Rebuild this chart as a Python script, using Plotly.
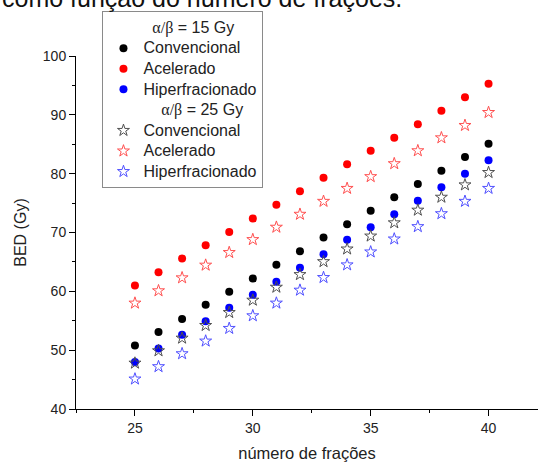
import plotly.graph_objects as go

fracoes = [25, 26, 27, 28, 29, 30, 31, 32, 33, 34, 35, 36, 37, 38, 39, 40]

# alpha/beta = 15 Gy
conv_15 = [50.8, 53.1, 55.3, 57.7, 59.95, 62.2, 64.5, 66.8, 69.15, 71.4, 73.7, 76.0, 78.25, 80.5, 82.85, 85.1]
acel_15 = [61.0, 63.25, 65.6, 67.85, 70.1, 72.4, 74.7, 77.0, 79.3, 81.6, 83.9, 86.1, 88.4, 90.7, 93.0, 95.3]
hiper_15 = [48.0, 50.3, 52.6, 54.9, 57.2, 59.4, 61.65, 64.0, 66.3, 68.75, 70.9, 73.1, 75.4, 77.7, 80.0, 82.3]

# alpha/beta = 25 Gy
conv_25 = [47.8, 49.9, 52.05, 54.2, 56.4, 58.5, 60.7, 62.85, 65.05, 67.2, 69.4, 71.65, 73.8, 76.0, 78.1, 80.2]
acel_25 = [58.0, 60.1, 62.3, 64.45, 66.6, 68.8, 70.9, 73.1, 75.3, 77.5, 79.5, 81.7, 83.9, 86.1, 88.2, 90.4]
hiper_25 = [45.1, 47.2, 49.4, 51.55, 53.7, 55.85, 58.0, 60.2, 62.35, 64.5, 66.7, 68.9, 71.0, 73.2, 75.3, 77.5]

def big(t):
    return "<span style='font-size:16px'>" + t + "</span>"

serif = "<span style='font-family:Liberation Serif'>α/β</span>"
header_15 = big("\u00a0\u00a0" + serif + " = 15 Gy")
header_25 = big("\u00a0\u00a0\u00a0\u00a0" + serif + " = 25 Gy")

fig = go.Figure()

def header(name):
    fig.add_trace(go.Scatter(x=[None], y=[None], mode="markers", name=name,
                             marker=dict(color="rgba(0,0,0,0)", size=1)))

header(header_15)
fig.add_trace(go.Scatter(x=fracoes, y=conv_15, mode="markers", name=big("Convencional"),
                         marker=dict(symbol="circle", size=8, color="#000000")))
fig.add_trace(go.Scatter(x=fracoes, y=acel_15, mode="markers", name=big("Acelerado"),
                         marker=dict(symbol="circle", size=8, color="#ff0000")))
fig.add_trace(go.Scatter(x=fracoes, y=hiper_15, mode="markers", name=big("Hiperfracionado"),
                         marker=dict(symbol="circle", size=8, color="#0000ff")))
header(header_25)
fig.add_trace(go.Scatter(x=fracoes, y=conv_25, mode="markers", name=big("Convencional"),
                         marker=dict(symbol="star-open", size=9, color="#505050", line=dict(width=1))))
fig.add_trace(go.Scatter(x=fracoes, y=acel_25, mode="markers", name=big("Acelerado"),
                         marker=dict(symbol="star-open", size=9, color="#ff5050", line=dict(width=1))))
fig.add_trace(go.Scatter(x=fracoes, y=hiper_25, mode="markers", name=big("Hiperfracionado"),
                         marker=dict(symbol="star-open", size=9, color="#5050ff", line=dict(width=1))))

W, H = 538, 464
L, R, T, B = 75.5, 0, 55.7, 54.7
pw = W - L - R
ph = H - T - B

axis_common = dict(showline=True, linecolor="#000000", linewidth=1, ticks="outside",
                   ticklen=6, tickcolor="#000000", showgrid=False, zeroline=False,
                   tickfont=dict(family="Liberation Sans, Arial", size=14, color="#222222"),
                   mirror=False)

fig.update_layout(
    width=W, height=H,
    margin=dict(l=L, r=R, t=T, b=B, autoexpand=False),
    plot_bgcolor="white", paper_bgcolor="white",
    font=dict(family="Liberation Sans, Arial", color="#222222"),
    xaxis=dict(range=[22.5, 22.5 + pw / 23.6], tick0=25, dtick=5,
               minor=dict(ticks="outside", ticklen=3, dtick=2.5, tick0=22.5, tickcolor="#000000"),
               title=dict(text="número de frações", font=dict(size=16.5), standoff=12),
               **axis_common),
    yaxis=dict(range=[40, 100], tick0=40, dtick=10,
               minor=dict(ticks="outside", ticklen=3, dtick=5, tickcolor="#000000"),
               title=dict(text="BED (Gy)", font=dict(size=16), standoff=12),
               **axis_common),
    showlegend=True,
    legend=dict(x=(102 - L) / pw, y=1 + (T - 11) / ph, xanchor="left", yanchor="top",
                bgcolor="white", bordercolor="#8a8a8a", borderwidth=1,
                font=dict(family="Liberation Sans, Arial", size=13.5, color="#222222"),
                traceorder="normal", tracegroupgap=0),
    annotations=[dict(text="como função do número de frações.", xref="paper", yref="paper",
                      x=-(L + 1) / pw, y=1 + (T - 14) / ph, xanchor="left", yanchor="bottom",
                      showarrow=False, font=dict(family="Liberation Sans, Arial", size=25,
                                                 color="#111111"))],
)

fig.write_html("out.html", config={"displayModeBar": False},
               post_script="document.body.style.margin='0';document.body.style.overflow='hidden';")
